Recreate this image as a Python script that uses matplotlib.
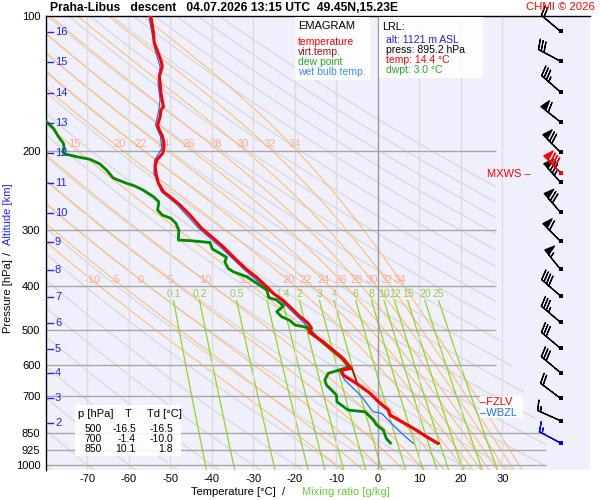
"""Emagram of the Praha-Libus descent sounding."""

import numpy as np
import matplotlib
matplotlib.use('Agg')
import matplotlib.pyplot as plt
from matplotlib.patches import PathPatch, Rectangle
from matplotlib.path import Path
from matplotlib.ticker import NullLocator

plt.rcParams['font.family'] = ['Liberation Sans', 'DejaVu Sans']

W, H = 600, 500
P_TOP, P_BOT = 100., 1025.6
T_LEFT, T_RIGHT = -80., 51.1

# sounding (hPa, degC)
TEMP_P = [100.4, 109.1, 114.9, 119.1, 126.4, 129.7, 136.5, 141.0, 148.6, 153.8,
          159.2, 161.9, 167.6, 174.9, 179.4, 185.7, 192.1, 197.1, 202.2, 209.3,
          215.8, 224.0, 235.8, 246.2, 252.6, 263.6, 277.5, 297.0, 310.1, 326.5,
          346.5, 366.6, 381.3, 400.8, 414.6, 430.2, 444.1, 463.4, 483.5, 496.1,
          506.0, 531.4, 554.5, 578.6, 609.1, 614.4, 630.3, 657.7, 692.3, 722.7,
          754.2, 773.8, 828.4, 864.9, 894.7]
TEMP_T = [-54.7, -54.1, -53.9, -53.2, -52.2, -52.0, -52.7, -52.5, -52.3, -52.0,
          -51.7, -52.3, -52.5, -53.1, -52.7, -51.9, -51.6, -51.6, -51.9, -53.3,
          -53.7, -53.5, -52.9, -51.7, -50.1, -47.7, -45.3, -42.5, -40.1, -37.3,
          -34.5, -31.7, -29.3, -26.8, -25.2, -22.8, -21.2, -19.2, -16.8, -16.0,
          -16.6, -13.2, -10.8, -8.4, -6.4, -8.8, -8.4, -5.2, -1.9, 0.1,
          2.5, 2.9, 8.5, 11.7, 14.4]

DEW_P = [166.0, 171.9, 177.9, 185.7, 192.1, 197.1, 200.6, 202.9, 205.8, 208.5,
         213.6, 220.3, 229.5, 235.8, 239.1, 244.1, 252.6, 259.2, 270.4, 277.5,
         282.2, 289.5, 299.6, 315.4, 316.6, 319.5, 330.3, 337.7, 344.7, 352.5,
         364.7, 371.0, 380.7, 393.8, 407.6, 423.6, 429.1, 442.5, 455.6, 467.5,
         476.6, 487.7, 493.5, 501.7, 531.4, 554.5, 578.6, 604.0, 612.8, 624.9,
         646.7, 663.5, 680.7, 698.4, 722.7, 754.2, 760.9, 773.8, 793.9, 814.5,
         835.8, 872.0, 893.3]
DEW_T = [-82.0, -79.9, -78.2, -77.0, -75.8, -75.6, -76.0, -75.4, -72.6, -69.4,
         -67.0, -65.4, -63.8, -60.6, -58.6, -56.6, -54.1, -52.8, -53.1, -52.0,
         -49.9, -48.7, -48.0, -48.1, -44.9, -40.5, -39.9, -38.1, -36.5, -36.9,
         -36.1, -34.9, -31.6, -29.2, -26.8, -26.3, -24.4, -22.8, -24.4, -23.2,
         -21.2, -20.0, -17.2, -16.5, -13.5, -11.1, -8.7, -7.0, -9.0, -12.0,
         -12.8, -12.4, -11.2, -10.0, -9.9, -7.2, -3.1, -2.3, -1.1, -0.3,
         1.3, 2.0, 3.0]

WB_P = [100.4, 119.1, 129.7, 141.0, 153.8, 161.9, 174.9, 185.7, 197.1, 209.3,
        224.0, 246.2, 263.6, 297.0, 326.5, 366.6, 400.8, 430.2, 463.4, 496.1,
        531.4, 578.6, 604.0, 614.4, 619.7, 646.7, 680.7, 704.8, 754.2, 760.9,
        767.4, 800.9, 843.2, 894.7]
WB_T = [-55.2, -53.7, -52.5, -53.0, -52.5, -52.8, -53.6, -52.4, -52.1, -53.8,
        -54.0, -52.2, -48.3, -43.2, -38.0, -32.3, -27.4, -23.4, -19.8, -16.5,
        -13.6, -8.8, -7.0, -9.2, -9.2, -8.0, -5.5, -3.9, -1.5, -1.1,
        0.9, 2.9, 5.3, 8.5]

VIRT_P = [609.1, 657.7, 692.3, 722.7, 754.2, 773.8, 828.4, 864.9, 894.7]
VIRT_T = [-6.3, -5.0, -1.7, 0.3, 2.7, 3.1, 8.8, 12.0, 14.7]

# altitude marks on the left edge (km, hPa)
ALT_KM = [16, 15, 14, 13, 12, 11, 10, 9, 8, 7, 6, 5, 4, 3, 2]
ALT_P = [108.5, 126.6, 148.4, 173.1, 201.9, 235.5, 274.6, 318.7, 367.9, 422.5,
         482.7, 551.6, 623.9, 709.3, 806.0]

# winds (hPa, deg, kt)
WIND_P = [108.2, 126.1, 147.7, 172.2, 201.2, 234.6, 273.7, 317.5, 366.6, 420.3,
          480.9, 549.7, 622.9, 710.3, 796.7]
WIND_DIR = [310, 298, 311, 308, 315, 318, 319, 315, 321, 311,
            310, 310, 310, 307, 294]
WIND_KT = [20, 30, 35, 60, 70, 75, 70, 60, 55, 40, 35, 30, 30, 20, 15]
MXWS_P, MXWS_DIR, MXWS_KT = 224.0, 315, 80
LRL_P, LRL_DIR, LRL_KT = 894.7, 298, 15
FZLV_P, WBZL_P = 722.5, 764.8

TABLE_P = ['500', '700', '850']
TABLE_T = ['-16.5', '-1.4', '10.1']
TABLE_TD = ['-16.5', '-10.0', '1.8']

PRESS_TICKS = [100, 200, 300, 400, 500, 600, 700, 850, 925, 1000]
TEMP_TICKS = [-70, -60, -50, -40, -30, -20, -10, 0, 10, 20, 30]
DRY_THETA = list(range(-80, 181, 10))
MOIST_THW = [-10, -5, 0, 5, 10, 15, 20, 22, 24, 26, 28, 30, 32, 34]
MIX_W = [0.1, 0.2, 0.5, 1, 1.4, 2, 3, 4, 6, 8, 10, 12, 15, 20, 25]

RD, CP, LV, EPS = 287.04, 1005.7, 2.501e6, 0.622
BG = '#f0f0fc'
GREY = '#d8d8d8'
ORANGE = '#ffbd73'
ORANGE_TXT = '#ffab8c'
MIX_GREEN = '#8fd81c'
MIX_TXT = '#99cc44'
BLUE_TXT = '#2323ff'


def sat_vp(tc):
  """Saturation vapour pressure over water in hPa."""
  return 6.112 * np.exp(17.67 * tc / (tc + 243.5))


def lapse(p, t):
  """Saturated adiabatic dT/dp in K/hPa."""
  es = sat_vp(t - 273.15)
  rs = EPS * es / (p - es)
  return (RD * t + LV * rs) / (p * (CP + LV ** 2 * rs * EPS / (RD * t ** 2)))


def integrate(t0, ps):
  """RK4 along a pressure grid starting at t0 (K)."""
  ts = [t0]
  for i in range(len(ps) - 1):
    p, h, t = ps[i], ps[i + 1] - ps[i], ts[-1]
    k1 = lapse(p, t)
    k2 = lapse(p + h / 2, t + h / 2 * k1)
    k3 = lapse(p + h / 2, t + h / 2 * k2)
    k4 = lapse(p + h, t + h * k3)
    ts.append(t + h / 6 * (k1 + 2 * k2 + 2 * k3 + k4))
  return np.array(ts) - 273.15


def moist_adiabat(thw):
  """Pseudo-adiabat through thw degC at 1000 hPa, top to bottom."""
  up = np.arange(1000., 99., -2.)
  down = np.arange(1000., 1032., 2.)
  t_up = integrate(thw + 273.15, up)
  t_down = integrate(thw + 273.15, down)
  ps = np.concatenate([up[::-1], down[1:]])
  ts = np.concatenate([t_up[::-1], t_down[1:]])
  return ps, ts


def mixing_line(w, ps):
  """Temperature of constant mixing ratio w (g/kg)."""
  e = w / 1000 * ps / (EPS + w / 1000)
  l = np.log(e / 6.112)
  return 243.5 * l / (17.67 - l)


def fig_xy(x, y):
  """Pixel position to figure fraction."""
  return x / W, 1 - y / H


def fig_text(x, y, s, **kw):
  """Text placed by pixel position."""
  fx, fy = fig_xy(x, y)
  kw.setdefault('va', 'center')
  kw.setdefault('fontsize', 7.5)
  return plt.gcf().text(fx, fy, s, **kw)


def box(fig, x0, y0, x1, y1):
  """White label box in pixel coordinates."""
  fx, fy = fig_xy(x0, y1)
  fig.add_artist(Rectangle((fx, fy), (x1 - x0) / W, (y1 - y0) / H,
                           transform=fig.transFigure, facecolor='white',
                           edgecolor='none', alpha=0.88, zorder=2))


def uv(direction, speed):
  """Meteorological direction and speed to u, v."""
  rad = np.deg2rad(np.asarray(direction, float))
  speed = np.asarray(speed, float)
  return -speed * np.sin(rad), -speed * np.cos(rad)


def build_axes(fig):
  """Axes with the emagram frame."""
  ax = fig.add_axes([46 / W, 30 / H, 544 / W, 454 / H])
  ax.set_facecolor(BG)
  ax.set_yscale('log')
  ax.set_ylim(P_BOT, P_TOP)
  ax.set_xlim(T_LEFT, T_RIGHT)
  ax.yaxis.set_minor_locator(NullLocator())
  ax.set_yticks(PRESS_TICKS)
  ax.set_yticklabels([str(p) for p in PRESS_TICKS])
  ax.set_xticks(TEMP_TICKS)
  ax.set_xticklabels([str(t) for t in TEMP_TICKS])
  ax.tick_params(length=0, labelsize=8)
  ax.tick_params(axis='y', pad=4)
  ax.tick_params(axis='x', pad=3)
  for side in ('right', 'bottom'):
    ax.spines[side].set_visible(False)
  for side in ('top', 'left'):
    ax.spines[side].set_linewidth(1.0)
  return ax


def draw_background(ax):
  """Adiabats, mixing ratio lines and grid."""
  clip = PathPatch(Path([(-80, 90), (28.4, 90), (28.4, 500), (40.5, 880),
                         (40.5, 1100), (-80, 1100), (-80, 90)]),
                   transform=ax.transData, facecolor='none', edgecolor='none')
  ax.add_patch(clip)

  ps = np.geomspace(P_TOP, 1030., 300)
  for th in DRY_THETA:
    ts = (th + 273.15) * (ps / 1000.) ** (RD / CP) - 273.15
    line, = ax.plot(ts, ps, color=GREY, lw=0.9, zorder=1)
    line.set_clip_path(clip)

  for thw in MOIST_THW:
    mp, mt = moist_adiabat(thw)
    line, = ax.plot(mt, mp, color=ORANGE, lw=0.8, zorder=1.2)
    line.set_clip_path(clip)
    for p_at, p_lab in ((197., 193.), (388., 387.)):
      t_at = np.interp(p_at, mp, mt)
      if t_at > -78:
        ax.text(t_at, p_lab, f'{thw}', color=ORANGE_TXT, fontsize=8,
                ha='center', va='center', zorder=1.5)

  wp = np.geomspace(430., 1030., 60)
  for w in MIX_W:
    ax.plot(mixing_line(w, wp), wp, color=MIX_GREEN, lw=0.9, zorder=1.3)
    ax.text(mixing_line(w, np.array([430.]))[0], 416., f'{w:g}',
            color=MIX_TXT, fontsize=7.6, ha='center', va='center', zorder=1.5)

  for t in TEMP_TICKS:
    ax.vlines(t, P_TOP, P_BOT, color='#999999' if t == 0 else '#dcdcdc',
              lw=1.0, zorder=1.6)
  for p in PRESS_TICKS[1:]:
    ax.hlines(p, T_LEFT, 28.4 if p <= 700 else 40.5, color='#a8a8a8',
              lw=1.0, zorder=1.7)


def draw_profiles(ax):
  """Sounding curves."""
  ax.plot(WB_T, WB_P, color='#1f6dff', lw=0.9, zorder=4)
  ax.plot(VIRT_T, VIRT_P, color='#a01010', lw=1.2, zorder=4.5)
  ax.plot(DEW_T, DEW_P, color='#008a00', lw=2.0, zorder=5,
          solid_joinstyle='round')
  ax.plot(TEMP_T, TEMP_P, color='#ff0000', lw=2.2, zorder=6,
          solid_joinstyle='round')


def draw_altitudes(ax):
  """Blue km marks along the pressure axis."""
  tr = ax.get_yaxis_transform()
  for km, p in zip(ALT_KM, ALT_P):
    ax.plot([0.0015, 0.0135], [p, p], color=BLUE_TXT, lw=1.0,
            transform=tr, zorder=7, clip_on=False)
    ax.text(0.0165, p, str(km), color=BLUE_TXT, fontsize=8, transform=tr,
            va='center', ha='left', zorder=7)


def draw_winds(fig, ax):
  """Wind barbs in the right column."""
  x = 44.0
  for ps, dirs, kts, col in ((WIND_P, WIND_DIR, WIND_KT, 'black'),
                             ([MXWS_P], [MXWS_DIR], [MXWS_KT], 'red'),
                             ([LRL_P], [LRL_DIR], [LRL_KT], '#0000ff')):
    u, v = uv(dirs, kts)
    ax.barbs(np.full(len(ps), x), ps, u, v, length=6.0, color=col,
             linewidth=0.9, zorder=8, clip_on=False)
    ax.scatter(np.full(len(ps), x), ps, marker='s', s=6, color=col,
               zorder=9, clip_on=False, linewidths=0)
  ax.text(26.3, 225., 'MXWS \u2013', color='red', fontsize=8, va='center',
          ha='left', zorder=9)
  fig.text(24.7, FZLV_P, '\u2013FZLV', color='red', fontsize=8, va='center',
           ha='left', zorder=3, transform=ax.transData)
  fig.text(24.7, WBZL_P, '\u2013WBZL', color='#1f6dff', fontsize=8,
           va='center', ha='left', zorder=3, transform=ax.transData)


def draw_labels(fig):
  """Title, axis titles, legend and info boxes."""
  fig_text(50, 8, 'Praha-Libus   descent   04.07.2026 13:15 UTC  49.45N,15.23E',
           fontsize=8.7, fontweight='bold', ha='left')
  fig_text(595, 7, 'CHMI \u00a9 2026', color='red', fontsize=8.2, ha='right')

  fig_text(288, 492, 'Temperature [\u00b0C]  / ', fontsize=8, ha='right')
  fig_text(302, 492, 'Mixing ratio [g/kg]', fontsize=8, ha='left',
           color='#66cc33')
  fig_text(8, 333, 'Pressure [hPa]', fontsize=8, rotation=90, ha='center',
           va='bottom')
  fig_text(8, 253, '/', fontsize=8, rotation=90, ha='center')
  fig_text(8, 183, 'Altitude [km]', fontsize=8, rotation=90, ha='center',
           va='top', color=BLUE_TXT)

  box(fig, 295, 16.7, 370, 80)
  fig_text(298, 26, 'EMAGRAM', fontsize=8)
  for y, s, c in ((42, 'temperature', 'red'), (52, 'virt.temp.', '#aa1111'),
                  (62, 'dew point', '#22aa22'),
                  (72, 'wet bulb temp.', '#3a8cff')):
    fig_text(298, y, s, color=c)

  box(fig, 378.5, 16.7, 483.3, 78)
  fig_text(382, 27, 'LRL:', fontsize=7.8)
  for y, s, c in ((40, 'alt: 1121 m ASL', '#2020ee'),
                  (50, 'press: 895.2 hPa', 'black'),
                  (60, 'temp: 14.4 \u00b0C', 'red'),
                  (70, 'dwpt: 3.0 \u00b0C', '#22aa22')):
    fig_text(386, y, s, color=c)

  box(fig, 75, 405, 181, 456)
  fig_text(78.3, 414, 'p [hPa]', fontsize=8)
  fig_text(127.7, 414, 'T', fontsize=8, ha='center')
  fig_text(146.7, 414, 'Td [\u00b0C]', fontsize=8)
  for y, p, t, td in zip((429, 439.5, 449.5), TABLE_P, TABLE_T, TABLE_TD):
    fig_text(101.7, y, p, ha='right')
    fig_text(136, y, t, ha='right')
    fig_text(173.3, y, td, ha='right')

  box(fig, 480, 396, 523, 417.5)


def main():
  fig = plt.figure(figsize=(W / 100, H / 100), dpi=100)
  ax = build_axes(fig)
  draw_background(ax)
  draw_profiles(ax)
  draw_altitudes(ax)
  draw_winds(fig, ax)
  draw_labels(fig)
  fig.savefig('out.png', dpi=100)


if __name__ == '__main__':
  main()
